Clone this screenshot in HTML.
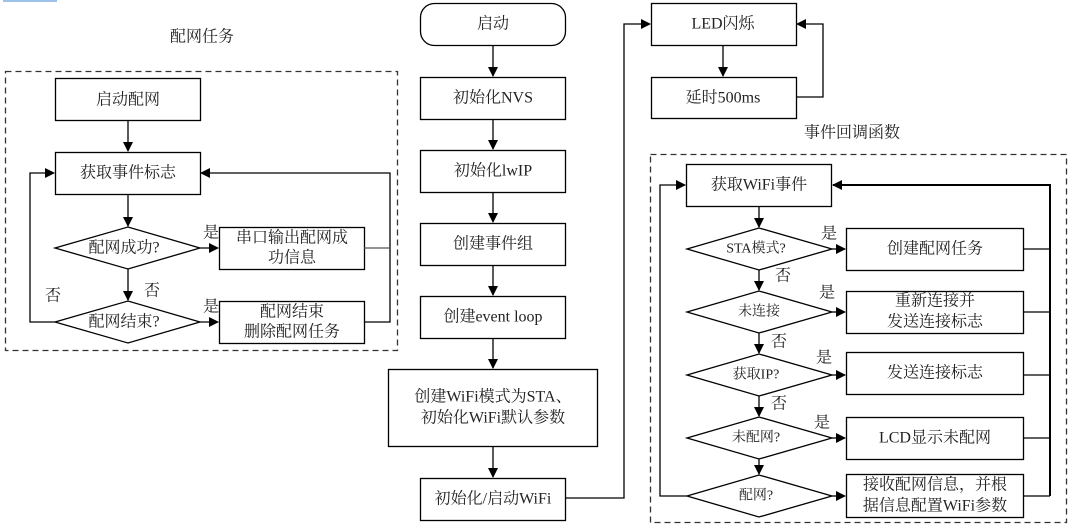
<!DOCTYPE html>
<html><head><meta charset="utf-8"><style>
html,body{margin:0;padding:0;background:#fff;}
svg{display:block;}
text{font-family:"Liberation Serif","Noto Serif CJK SC","Noto Sans CJK SC",serif;font-size:16px;fill:#222;text-anchor:middle;dominant-baseline:central;}
.s{font-size:14px;}
</style></head><body>
<svg width="1070" height="531" viewBox="0 0 1070 531" xmlns="http://www.w3.org/2000/svg">
<defs><marker id="a" markerWidth="10" markerHeight="10" refX="9" refY="5" orient="auto" markerUnits="userSpaceOnUse"><path d="M0,0 L10,5 L0,10 z" fill="#000"/></marker></defs>
<rect x="3" y="0" width="54" height="2" fill="#9cc2ea"/>
<g fill="none" stroke="#000" stroke-width="1.3">
<!-- left -->
<rect x="5.5" y="71.5" width="392" height="279" stroke-dasharray="6,4" stroke="#333"/>
<rect x="55.5" y="78.5" width="145" height="42" fill="#fff"/>
<rect x="55.5" y="152.5" width="145" height="42" fill="#fff"/>
<polygon points="55,248 128,227 200,248 128,269" fill="#fff"/>
<polygon points="55,322 128,301 200,322 128,343" fill="#fff"/>
<rect x="219.5" y="227.5" width="145" height="42" fill="#fff"/>
<rect x="219.5" y="301.5" width="145" height="42" fill="#fff"/>
<line x1="128" y1="121" x2="128" y2="151" marker-end="url(#a)"/>
<line x1="128" y1="195" x2="128" y2="226" marker-end="url(#a)"/>
<line x1="128" y1="269" x2="128" y2="300" marker-end="url(#a)"/>
<line x1="200" y1="248" x2="218" y2="248" marker-end="url(#a)"/>
<line x1="200" y1="322" x2="218" y2="322" marker-end="url(#a)"/>
<polyline points="55,322 30,322 30,173 54,173" marker-end="url(#a)"/>
<polyline points="364,322 390,322 390,173 201,173" marker-end="url(#a)"/>
<line x1="364" y1="248" x2="390" y2="248" stroke="#555"/>
<!-- middle -->
<rect x="420.5" y="3.5" width="145" height="42" rx="14" fill="#fff"/>
<rect x="420.5" y="77.5" width="145" height="42" fill="#fff"/>
<rect x="420.5" y="150.5" width="145" height="42" fill="#fff"/>
<rect x="420.5" y="223.5" width="145" height="42" fill="#fff"/>
<rect x="420.5" y="296.5" width="145" height="42" fill="#fff"/>
<rect x="388.5" y="369.5" width="209" height="77" fill="#fff"/>
<rect x="420.5" y="478.5" width="145" height="42" fill="#fff"/>
<line x1="493" y1="46" x2="493" y2="76" marker-end="url(#a)"/>
<line x1="493" y1="120" x2="493" y2="149" marker-end="url(#a)"/>
<line x1="493" y1="193" x2="493" y2="222" marker-end="url(#a)"/>
<line x1="493" y1="266" x2="493" y2="295" marker-end="url(#a)"/>
<line x1="493" y1="339" x2="493" y2="368" marker-end="url(#a)"/>
<line x1="493" y1="447" x2="493" y2="477" marker-end="url(#a)"/>
<polyline points="566,498 624,498 624,24 650,24" marker-end="url(#a)"/>
<!-- top right -->
<rect x="651.5" y="3.5" width="145" height="42" fill="#fff"/>
<rect x="651.5" y="77.5" width="145" height="41" fill="#fff"/>
<line x1="723" y1="46" x2="723" y2="76" marker-end="url(#a)"/>
<polyline points="797,97 823,97 823,24 797,24" marker-end="url(#a)"/>
<!-- right -->
<rect x="650.5" y="154.5" width="416" height="368" stroke-dasharray="6,4" stroke="#333"/>
<rect x="686.5" y="164.5" width="145" height="42" fill="#fff"/>
<polygon points="687,249 759,228 832,249 759,270" fill="#fff"/>
<polygon points="687,312 759,291 832,312 759,333" fill="#fff"/>
<polygon points="687,375 759,354 832,375 759,396" fill="#fff"/>
<polygon points="687,438 759,417 832,438 759,459" fill="#fff"/>
<polygon points="687,496 759,475 832,496 759,517" fill="#fff"/>
<rect x="846.5" y="228.5" width="177" height="42" fill="#fff"/>
<rect x="846.5" y="291.5" width="177" height="42" fill="#fff"/>
<rect x="846.5" y="352.5" width="177" height="42" fill="#fff"/>
<rect x="846.5" y="417.5" width="177" height="42" fill="#fff"/>
<rect x="846.5" y="474.5" width="177" height="43" fill="#fff"/>
<line x1="759" y1="207" x2="759" y2="227" marker-end="url(#a)"/>
<line x1="759" y1="270" x2="759" y2="290" marker-end="url(#a)"/>
<line x1="759" y1="333" x2="759" y2="353" marker-end="url(#a)"/>
<line x1="759" y1="396" x2="759" y2="416" marker-end="url(#a)"/>
<line x1="759" y1="459" x2="759" y2="474" marker-end="url(#a)"/>
<line x1="832" y1="249" x2="845" y2="249" marker-end="url(#a)"/>
<line x1="832" y1="312" x2="845" y2="312" marker-end="url(#a)"/>
<line x1="832" y1="375" x2="845" y2="375" marker-end="url(#a)"/>
<line x1="832" y1="438" x2="845" y2="438" marker-end="url(#a)"/>
<line x1="832" y1="496" x2="845" y2="496" marker-end="url(#a)"/>
<polyline points="687,496 660,496 660,185 685,185" marker-end="url(#a)"/>
<polyline points="1050,496 1050,185 833,185" stroke-width="2" marker-end="url(#a)"/>
<line x1="1024" y1="249" x2="1050" y2="249"/>
<line x1="1024" y1="312" x2="1050" y2="312"/>
<line x1="1024" y1="375" x2="1050" y2="375"/>
<line x1="1024" y1="438" x2="1050" y2="438"/>
<line x1="1024" y1="496" x2="1050" y2="496"/>
</g>
<text x="202" y="37">配网任务</text>
<text x="128" y="100">启动配网</text>
<text x="128" y="173">获取事件标志</text>
<text x="124" y="248">配网成功?</text>
<text x="124" y="322">配网结束?</text>
<text x="292" y="238">串口输出配网成</text>
<text x="292" y="258">功信息</text>
<text x="292" y="312">配网结束</text>
<text x="292" y="332">删除配网任务</text>
<text x="211" y="233">是</text>
<text x="211" y="307">是</text>
<text x="53" y="296">否</text>
<text x="152" y="291">否</text>
<text x="493" y="24">启动</text>
<text x="493" y="98">初始化NVS</text>
<text x="493" y="171">初始化lwIP</text>
<text x="493" y="244">创建事件组</text>
<text x="493" y="317">创建event loop</text>
<text x="493" y="397">创建WiFi模式为STA、</text>
<text x="493" y="418">初始化WiFi默认参数</text>
<text x="493" y="499">初始化/启动WiFi</text>
<text x="723" y="24">LED闪烁</text>
<text x="723" y="98">延时500ms</text>
<text x="852" y="133">事件回调函数</text>
<text x="759" y="185">获取WiFi事件</text>
<text class="s" x="756" y="249">STA模式?</text>
<text class="s" x="759" y="312">未连接</text>
<text class="s" x="756" y="375">获取IP?</text>
<text class="s" x="756" y="438">未配网?</text>
<text class="s" x="756" y="496">配网?</text>
<text x="935" y="249">创建配网任务</text>
<text x="935" y="301">重新连接并</text>
<text x="935" y="322">发送连接标志</text>
<text x="935" y="373">发送连接标志</text>
<text x="935" y="438">LCD显示未配网</text>
<text x="935" y="485">接收配网信息，并根</text>
<text x="935" y="506">据信息配置WiFi参数</text>
<text x="829" y="234">是</text>
<text x="827" y="293">是</text>
<text x="824" y="358">是</text>
<text x="822" y="423">是</text>
<text x="783" y="276">否</text>
<text x="779" y="342">否</text>
<text x="779" y="404">否</text>
</svg>
</body></html>
